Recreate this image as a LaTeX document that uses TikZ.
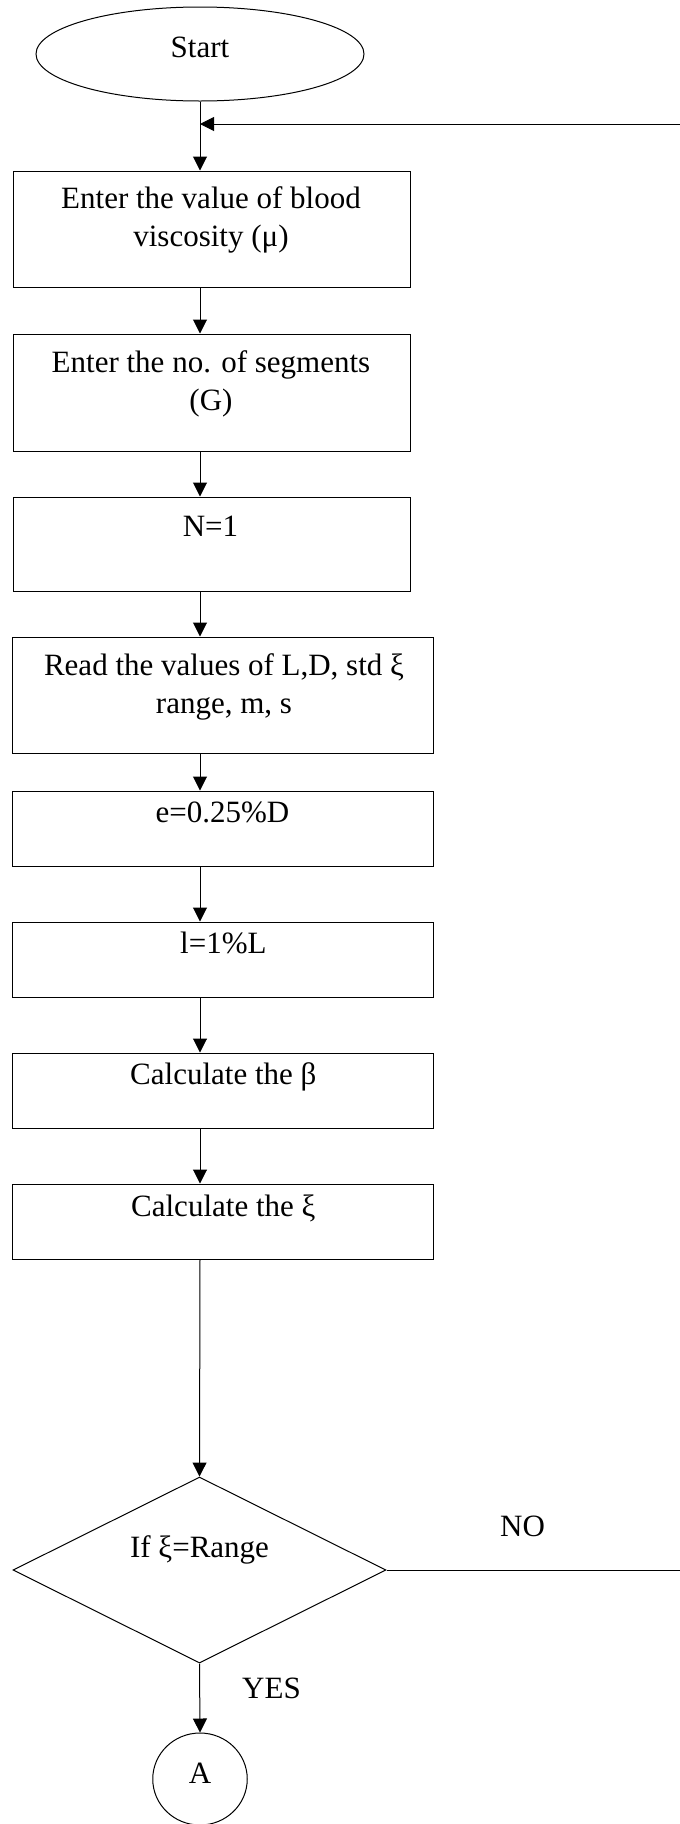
\documentclass[tikz,border=0pt]{standalone}
\usepackage{fontspec}
\setmainfont{Liberation Serif}
\usetikzlibrary{arrows.meta,shapes.geometric}
\newcommand{\tx}[1]{\begin{tabular}[t]{@{}c@{}}#1\end{tabular}}
\begin{document}
\begin{tikzpicture}[x=1pt,y=-1pt,
  boxnode/.style={draw, line width=1pt, rectangle, inner sep=0pt},
  shapenode/.style={draw, line width=1pt, inner sep=0pt},
  txt/.style={font=\fontsize{31}{38}\selectfont, inner sep=0pt, anchor=base},
  arr/.style={line width=1pt, -{Triangle[length=14pt,width=14pt]}},
  ln/.style={line width=1pt}]
\useasboundingbox (0,0) rectangle (680,1824);
\coordinate (sp) at (200,0);
\coordinate (r1) at (680,124);
\coordinate (r2) at (680,1570);

\node[shapenode, ellipse, minimum width=328pt, minimum height=94pt] (start) at (200,54) {};
\node[txt] (startT) at (200,57) {Start};

\node[boxnode, minimum width=397pt, minimum height=116pt] (b1) at (211.6,229) {};
\node[txt] (b1T) at (211,208) {\tx{Enter the value of blood\\viscosity (μ)}};

\node[boxnode, minimum width=397pt, minimum height=117pt] (b2) at (211.6,392.5) {};
\node[txt] (b2T) at (211,372) {\tx{Enter the no. of segments\\(G)}};

\node[boxnode, minimum width=397pt, minimum height=94pt] (b3) at (211.6,544) {};
\node[txt] (b3T) at (210.5,536) {N=1};

\node[boxnode, minimum width=420.7pt, minimum height=116pt] (b4) at (223.3,695) {};
\node[txt] (b4T) at (224,675) {\tx{Read the values of L,D, std ξ\\range, m, s}};

\node[boxnode, minimum width=420.7pt, minimum height=75pt] (b5) at (223.3,828.5) {};
\node[txt] (b5T) at (222.5,822) {e=0.25\%D};

\node[boxnode, minimum width=420.7pt, minimum height=75pt] (b6) at (223.3,959.5) {};
\node[txt] (b6T) at (223.4,953) {l=1\%L};

\node[boxnode, minimum width=420.7pt, minimum height=75pt] (b7) at (223.3,1090.5) {};
\node[txt] (b7T) at (223.3,1084) {Calculate the β};

\node[boxnode, minimum width=420.7pt, minimum height=75pt] (b8) at (223.3,1221.5) {};
\node[txt] (b8T) at (223.3,1216) {Calculate the ξ};

\node[shapenode, diamond, minimum width=373pt, minimum height=186pt] (d) at (199.5,1570) {};
\node[txt] (dT) at (199.5,1557) {If ξ=Range};

\node[txt] (no) at (522.6,1536) {NO};
\node[txt] (yes) at (271.5,1698) {YES};

\node[shapenode, ellipse, minimum width=94.5pt, minimum height=92pt] (A) at (200,1779) {};
\node[txt] (AT) at (200,1783) {A};

\draw[arr] (start.south -| sp) -- (b1.north -| sp);
\draw[arr] (r1) -- (r1 -| sp);
\draw[arr] (b1.south -| sp) -- (b2.north -| sp);
\draw[arr] (b2.south -| sp) -- (b3.north -| sp);
\draw[arr] (b3.south -| sp) -- (b4.north -| sp);
\draw[arr] (b4.south -| sp) -- (b5.north -| sp);
\draw[arr] (b5.south -| sp) -- (b6.north -| sp);
\draw[arr] (b6.south -| sp) -- (b7.north -| sp);
\draw[arr] (b7.south -| sp) -- (b8.north -| sp);
\draw[arr] (b8.south -| sp) -- (d.north);
\draw[ln] (d.east) -- (r2);
\draw[arr] (d.south) -- (A.north);
\end{tikzpicture}
\end{document}
